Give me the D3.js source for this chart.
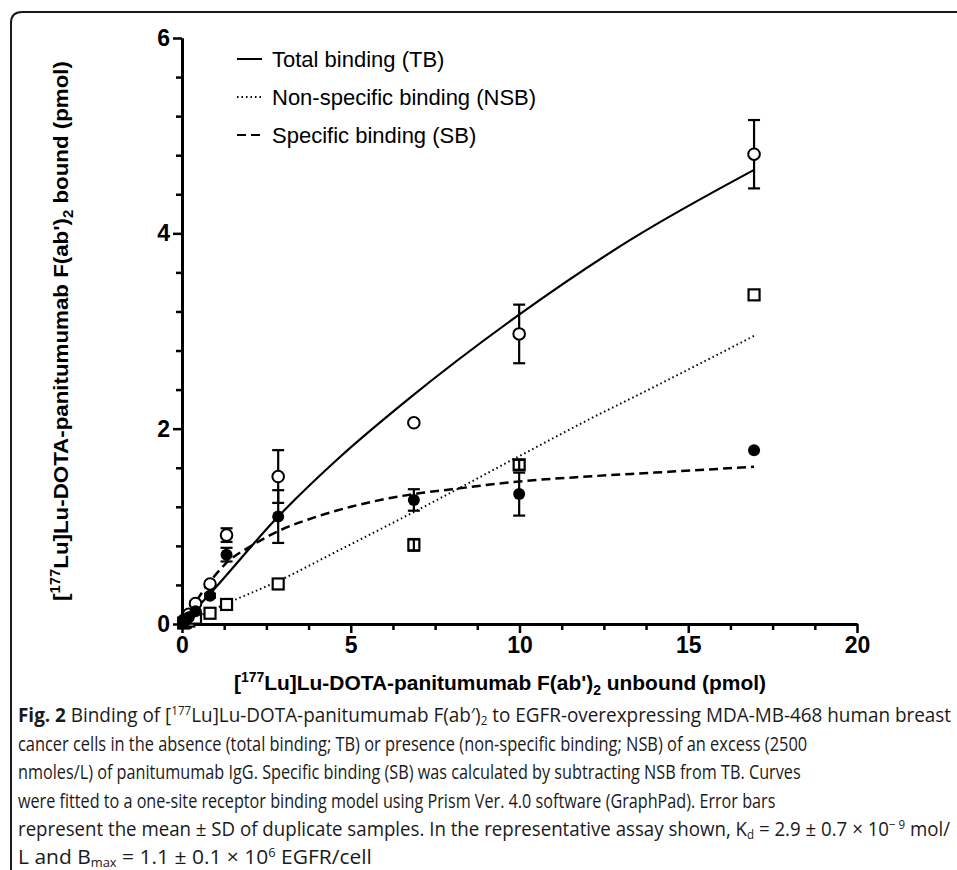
<!DOCTYPE html>
<html>
<head>
<meta charset="utf-8">
<script src="https://cdn.jsdelivr.net/npm/d3@7"></script>
<style>
  body { margin: 0; background: #fff; }
  svg { display: block; }
</style>
</head>
<body>
<script>
// measured points (pmol unbound vs pmol bound)
const concX   = [0.05, 0.1, 0.2, 0.4, 0.83, 1.32, 2.85, 6.87, 9.99, 16.95]
const tbMean  = [0.03, 0.05, 0.1, 0.21, 0.41, 0.91, 1.51, 2.06, 2.97, 4.81]
const tbSD    = [0, 0, 0, 0.02, 0.02, 0.07, 0.27, 0.02, 0.30, 0.35]
const sbMean  = [0.02, 0.04, 0.07, 0.13, 0.29, 0.71, 1.10, 1.27, 1.33, 1.78]
const sbSD    = [0, 0, 0, 0.01, 0.02, 0.07, 0.27, 0.11, 0.22, 0]
const nsbMean = [0.01, 0.02, 0.03, 0.06, 0.11, 0.20, 0.41, 0.81, 1.63, 3.37]
const nsbSD   = [0, 0, 0, 0, 0, 0, 0, 0.06, 0.05, 0]

// fitted curves
const tbFitX  = [0, 0.83, 2.85, 4.68, 6.66, 10, 13.27, 16.95]
const tbFitY  = [0, 0.31, 1.10, 1.71, 2.29, 3.17, 3.93, 4.65]
const sbFitX  = [0, 0.8, 1.3, 2.1, 2.85, 4, 5, 6.85, 8, 10, 12, 14, 16.95]
const sbFitY  = [0, 0.42, 0.62, 0.81, 0.95, 1.10, 1.20, 1.33, 1.38, 1.46, 1.51, 1.55, 1.61]
const nsbFitX = [0, 1.32, 2.85, 4.68, 7, 10, 12.09, 14, 16.95]
const nsbFitY = [0, 0.21, 0.44, 0.76, 1.17, 1.72, 2.10, 2.43, 2.95]

const xMajor = [0, 5, 10, 15, 20]
const yMajor = [0, 2, 4, 6]
const legendLabels = ["Total binding (TB)", "Non-specific binding (NSB)", "Specific binding (SB)"]

const w = 957
const h = 870

const svg = d3.select("body").append("svg")
    .attr("width", w)
    .attr("height", h)

// figure frame with rounded top-left corner
svg.append("path")
    .attr("d", "M 970 12 H 22 Q 11 12 11 23 V 880")
    .attr("fill", "none")
    .attr("stroke", "#1a1a1a")
    .attr("stroke-width", 2)

const x = d3.scaleLinear().domain([0, 20]).range([182, 857])
const y = d3.scaleLinear().domain([0, 6]).range([624, 38])

const xMinor = d3.range(0, 20.01, 1.25).filter(d => xMajor.indexOf(d) < 0)
const yMinor = d3.range(0, 6.01, 0.4).map(d => +d.toFixed(1)).filter(d => yMajor.indexOf(d) < 0)

function styleAxis(g) {
    g.select(".domain").attr("stroke", "#000").attr("stroke-width", 3)
    g.selectAll(".tick line").attr("stroke", "#000").attr("stroke-width", 2.5)
    g.selectAll("text")
        .attr("font-family", "Liberation Sans, Arial, sans-serif")
        .attr("font-weight", "bold")
        .attr("font-size", "23px")
        .attr("fill", "#000")
}

// minor ticks
svg.append("g")
    .attr("transform", "translate(0," + y(0) + ")")
    .call(d3.axisBottom(x).tickValues(xMinor).tickSize(6).tickFormat("").tickSizeOuter(0))
    .call(styleAxis)
svg.append("g")
    .attr("transform", "translate(" + x(0) + ",0)")
    .call(d3.axisLeft(y).tickValues(yMinor).tickSize(6).tickFormat("").tickSizeOuter(0))
    .call(styleAxis)

// major ticks
svg.append("g")
    .attr("transform", "translate(0," + y(0) + ")")
    .call(d3.axisBottom(x).tickValues(xMajor).tickFormat(d3.format("d")).tickSize(9).tickPadding(4).tickSizeOuter(0))
    .call(styleAxis)
svg.append("g")
    .attr("transform", "translate(" + x(0) + ",0)")
    .call(d3.axisLeft(y).tickValues(yMajor).tickFormat(d3.format("d")).tickSize(9).tickPadding(3).tickSizeOuter(0))
    .call(styleAxis)

// axis titles
const titleFont = "Liberation Sans, Arial, sans-serif"
let xt = svg.append("text")
    .attr("x", 500).attr("y", 690)
    .attr("text-anchor", "middle")
    .attr("font-family", titleFont).attr("font-weight", "bold").attr("font-size", "21px")
    .attr("textLength", 532).attr("lengthAdjust", "spacingAndGlyphs")
xt.append("tspan").text("[")
xt.append("tspan").attr("font-size", "14px").attr("dy", -8).text("177")
xt.append("tspan").attr("dy", 8).text("Lu]Lu-DOTA-panitumumab F(ab')")
xt.append("tspan").attr("font-size", "14px").attr("dy", 5).text("2")
xt.append("tspan").attr("dy", -5).text(" unbound (pmol)")

let yt = svg.append("text")
    .attr("transform", "translate(68,331) rotate(-90)")
    .attr("text-anchor", "middle")
    .attr("font-family", titleFont).attr("font-weight", "bold").attr("font-size", "21px")
    .attr("textLength", 540).attr("lengthAdjust", "spacingAndGlyphs")
yt.append("tspan").text("[")
yt.append("tspan").attr("font-size", "14px").attr("dy", -8).text("177")
yt.append("tspan").attr("dy", 8).text("Lu]Lu-DOTA-panitumumab F(ab')")
yt.append("tspan").attr("font-size", "14px").attr("dy", 5).text("2")
yt.append("tspan").attr("dy", -5).text(" bound (pmol)")

// fitted curves
const line = d3.line()
    .x(d => x(d[0]))
    .y(d => y(d[1]))
    .curve(d3.curveMonotoneX)

svg.append("path")
    .datum(d3.zip(tbFitX, tbFitY))
    .attr("d", line)
    .attr("fill", "none").attr("stroke", "#000").attr("stroke-width", 2.2)
svg.append("path")
    .datum(d3.zip(nsbFitX, nsbFitY))
    .attr("d", line)
    .attr("fill", "none").attr("stroke", "#000").attr("stroke-width", 2)
    .attr("stroke-dasharray", "1.5,3")
svg.append("path")
    .datum(d3.zip(sbFitX, sbFitY))
    .attr("d", line)
    .attr("fill", "none").attr("stroke", "#000").attr("stroke-width", 2.5)
    .attr("stroke-dasharray", "9,5")

// error bars
function errorBars(means, sds) {
    let data = concX.map((c, i) => ({c: c, m: means[i], s: sds[i]})).filter(d => d.s > 0)
    let g = svg.append("g").attr("stroke", "#000").attr("stroke-width", 2.2)
    g.selectAll("line.v").data(data).enter().append("line")
        .attr("x1", d => x(d.c)).attr("x2", d => x(d.c))
        .attr("y1", d => y(d.m - d.s)).attr("y2", d => y(d.m + d.s))
    g.selectAll("line.t").data(data).enter().append("line")
        .attr("x1", d => x(d.c) - 6).attr("x2", d => x(d.c) + 6)
        .attr("y1", d => y(d.m + d.s)).attr("y2", d => y(d.m + d.s))
    g.selectAll("line.b").data(data).enter().append("line")
        .attr("x1", d => x(d.c) - 6).attr("x2", d => x(d.c) + 6)
        .attr("y1", d => y(d.m - d.s)).attr("y2", d => y(d.m - d.s))
}
errorBars(tbMean, tbSD)
errorBars(sbMean, sbSD)

// NSB squares (their short bars are drawn over the squares)
svg.append("g").selectAll("rect")
    .data(d3.zip(concX, nsbMean))
    .enter().append("rect")
    .attr("x", d => x(d[0]) - 5.5).attr("y", d => y(d[1]) - 5.5)
    .attr("width", 11).attr("height", 11)
    .attr("fill", "#fff").attr("stroke", "#000").attr("stroke-width", 2.2)
errorBars(nsbMean, nsbSD)

// TB open circles
svg.append("g").selectAll("circle")
    .data(d3.zip(concX, tbMean))
    .enter().append("circle")
    .attr("cx", d => x(d[0])).attr("cy", d => y(d[1])).attr("r", 5.8)
    .attr("fill", "#fff").attr("stroke", "#000").attr("stroke-width", 2)

// SB filled circles
svg.append("g").selectAll("circle")
    .data(d3.zip(concX, sbMean))
    .enter().append("circle")
    .attr("cx", d => x(d[0])).attr("cy", d => y(d[1])).attr("r", 6)
    .attr("fill", "#000")

// legend
const legendDash = [null, "1.5,3", "9,5"]
const legend = svg.append("g").selectAll("g")
    .data(legendLabels)
    .enter().append("g")
    .attr("transform", (d, i) => "translate(237," + (59 + i * 38) + ")")
legend.append("line")
    .attr("x1", 0).attr("x2", 25)
    .attr("stroke", "#000").attr("stroke-width", 2)
    .attr("stroke-dasharray", (d, i) => legendDash[i])
legend.append("text")
    .attr("x", 35).attr("y", 8)
    .attr("font-family", "Liberation Sans, Arial, sans-serif")
    .attr("font-size", "22px")
    .text(d => d)

// caption: each line is squeezed sideways to the width it has in the figure
const capFont = "Open Sans, sans-serif"
const capX = 18
const capLines = [
    {y: 722, len: 934, parts: [["Fig. 2", "b"], [" Binding of ["], ["177", "sup"], ["Lu]Lu-DOTA-panitumumab F(ab\u2032)"], ["2", "sub"], [" to EGFR-overexpressing MDA-MB-468 human breast"]]},
    {y: 750.5, len: 790, parts: [["cancer cells in the absence (total binding; TB) or presence (non-specific binding; NSB) of an excess (2500"]]},
    {y: 779, len: 783, parts: [["nmoles/L) of panitumumab IgG. Specific binding (SB) was calculated by subtracting NSB from TB. Curves"]]},
    {y: 807.5, len: 758, parts: [["were fitted to a one-site receptor binding model using Prism Ver. 4.0 software (GraphPad). Error bars"]]},
    {y: 836, len: 933, parts: [["represent the mean \u00b1 SD of duplicate samples. In the representative assay shown, K"], ["d", "sub"], [" = 2.9 \u00b1 0.7 \u00d7 10"], ["\u2212 9", "sup"], [" mol/"]]},
    {y: 864, len: 354, parts: [["L and B"], ["max", "sub"], [" = 1.1 \u00b1 0.1 \u00d7 10"], ["6", "sup"], [" EGFR/cell"]]}
]
capLines.forEach(function(l) {
    let t = svg.append("text")
        .attr("transform", "translate(" + capX + "," + l.y + ")")
        .attr("font-family", capFont).attr("font-size", "19.5px").attr("fill", "#1a1a1a")
    let shift = 0
    l.parts.forEach(function(p) {
        let s = t.append("tspan").text(p[0])
        let target = 0
        if (p[1] == "sup") { s.attr("font-size", "12px"); target = -7 }
        if (p[1] == "sub") { s.attr("font-size", "12px"); target = 3 }
        if (p[1] == "b") s.attr("font-weight", "bold")
        if (target != shift) { s.attr("dy", target - shift); shift = target }
    })
    let natural = t.node().getComputedTextLength()
    t.attr("transform", "translate(" + capX + "," + l.y + ") scale(" + (l.len / natural) + ",1)")
})
</script>
</body>
</html>
